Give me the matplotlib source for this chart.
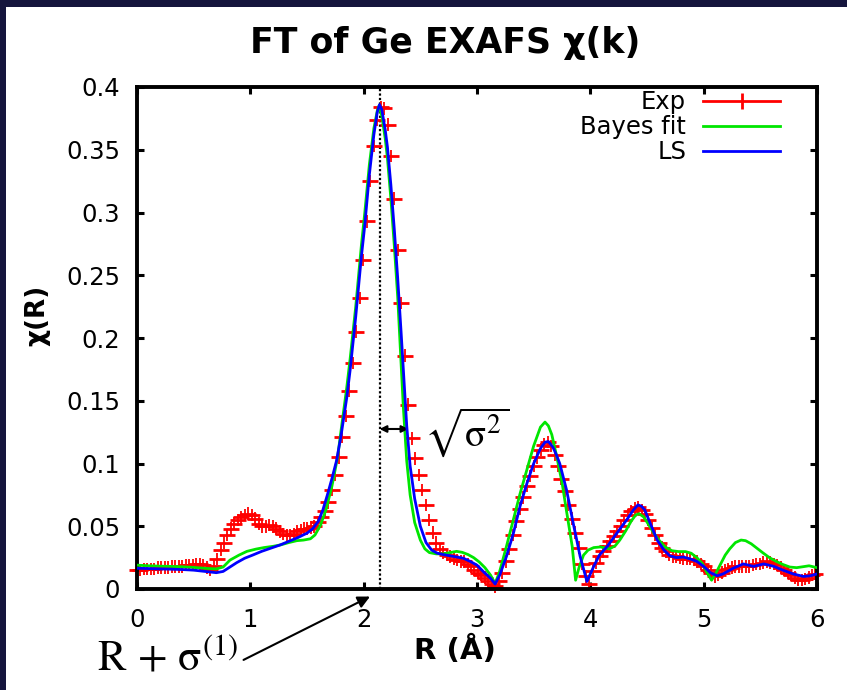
import numpy as np
import matplotlib
matplotlib.use("Agg")
from matplotlib import pyplot as plt
from matplotlib.lines import Line2D
from matplotlib.patches import Rectangle

# Experimental |chi(R)| on the FT grid (dR = 0.0307 A), 196 points from 0 to ~6 A
dr = 0.0307
exp_chi = [
    0.015, 0.015, 0.016, 0.016, 0.016, 0.016, 0.017, 0.017, 0.017, 0.017,
    0.018, 0.018, 0.018, 0.018, 0.019, 0.019, 0.019, 0.020, 0.020, 0.019,
    0.017, 0.015, 0.018, 0.024, 0.031, 0.037, 0.043, 0.048, 0.052, 0.055,
    0.057, 0.059, 0.060, 0.059, 0.056, 0.052, 0.050, 0.050, 0.051, 0.050,
    0.048, 0.046, 0.044, 0.043, 0.043, 0.044, 0.046, 0.047, 0.048, 0.048,
    0.049, 0.050, 0.053, 0.057, 0.062, 0.069, 0.079, 0.091, 0.105, 0.121,
    0.138, 0.158, 0.180, 0.205, 0.232, 0.262, 0.293, 0.325, 0.353, 0.374,
    0.384, 0.383, 0.370, 0.345, 0.311, 0.270, 0.228, 0.186, 0.147, 0.120,
    0.104, 0.091, 0.079, 0.067, 0.055, 0.045, 0.037, 0.032, 0.029, 0.027,
    0.026, 0.024, 0.023, 0.022, 0.022, 0.020, 0.018, 0.015, 0.013, 0.011,
    0.009, 0.006, 0.004, 0.002, 0.006, 0.013, 0.022, 0.032, 0.043, 0.054,
    0.064, 0.073, 0.082, 0.090, 0.098, 0.105, 0.111, 0.115, 0.117, 0.114,
    0.107, 0.098, 0.088, 0.078, 0.067, 0.056, 0.045, 0.033, 0.020, 0.010,
    0.004, 0.014, 0.021, 0.026, 0.030, 0.034, 0.038, 0.042, 0.046, 0.050,
    0.055, 0.059, 0.062, 0.064, 0.065, 0.063, 0.060, 0.055, 0.049, 0.043,
    0.037, 0.033, 0.030, 0.027, 0.026, 0.026, 0.025, 0.024, 0.024, 0.024,
    0.023, 0.022, 0.020, 0.018, 0.015, 0.013, 0.010, 0.011, 0.013, 0.015,
    0.016, 0.017, 0.018, 0.018, 0.018, 0.018, 0.018, 0.019, 0.020, 0.020,
    0.021, 0.022, 0.021, 0.020, 0.019, 0.017, 0.015, 0.013, 0.011, 0.009,
    0.007, 0.007, 0.008, 0.009, 0.011, 0.012,
]
exp_r = np.arange(len(exp_chi)) * dr
exp_err = 0.005

# Bayesian fit
bayes_r = [
    0.00, 0.10, 0.20, 0.30, 0.40, 0.50, 0.60, 0.70, 0.76, 0.82,
    0.90, 0.97, 1.05, 1.12, 1.20, 1.27, 1.34, 1.41, 1.47, 1.53,
    1.57, 1.62, 1.67, 1.72, 1.77, 1.80, 1.85, 1.88, 1.93, 1.98,
    2.01, 2.05, 2.09, 2.12, 2.135, 2.16, 2.19, 2.21, 2.24, 2.27,
    2.30, 2.33, 2.35, 2.38, 2.41, 2.45, 2.50, 2.54, 2.58, 2.64,
    2.70, 2.76, 2.82, 2.87, 2.92, 2.97, 3.02, 3.07, 3.12, 3.16,
    3.20, 3.26, 3.32, 3.38, 3.44, 3.50, 3.56, 3.60, 3.63, 3.66,
    3.70, 3.75, 3.79, 3.84, 3.87, 3.90, 3.94, 3.98, 4.03, 4.09,
    4.17, 4.22, 4.26, 4.31, 4.36, 4.40, 4.43, 4.47, 4.52, 4.56,
    4.61, 4.66, 4.72, 4.78, 4.84, 4.89, 4.94, 4.99, 5.03, 5.07,
    5.11, 5.15, 5.19, 5.23, 5.28, 5.33, 5.37, 5.42, 5.47, 5.52,
    5.58, 5.64, 5.70, 5.76, 5.82, 5.88, 5.93, 6.00,
]
bayes_chi = [
    0.0190, 0.0185, 0.0182, 0.0180, 0.0177, 0.0172, 0.0165, 0.0160, 0.0175, 0.0230,
    0.0270, 0.0300, 0.0318, 0.0330, 0.0340, 0.0352, 0.0370, 0.0385, 0.0390, 0.0400,
    0.0430, 0.0510, 0.0640, 0.0820, 0.1050, 0.1260, 0.1600, 0.1830, 0.2250, 0.2740,
    0.3000, 0.3380, 0.3670, 0.3810, 0.3850, 0.3770, 0.3590, 0.3430, 0.3110, 0.2740,
    0.2330, 0.1800, 0.1450, 0.1020, 0.0750, 0.0530, 0.0390, 0.0320, 0.0290, 0.0280,
    0.0280, 0.0290, 0.0300, 0.0292, 0.0275, 0.0250, 0.0215, 0.0170, 0.0110, 0.0045,
    0.0140, 0.0340, 0.0550, 0.0760, 0.0950, 0.1140, 0.1290, 0.1330, 0.1300, 0.1230,
    0.1070, 0.0850, 0.0620, 0.0340, 0.0070, 0.0170, 0.0270, 0.0310, 0.0330, 0.0335,
    0.0320, 0.0345, 0.0390, 0.0460, 0.0540, 0.0590, 0.0600, 0.0575, 0.0505, 0.0445,
    0.0385, 0.0335, 0.0305, 0.0298, 0.0298, 0.0285, 0.0250, 0.0200, 0.0130, 0.0070,
    0.0130, 0.0200, 0.0270, 0.0320, 0.0370, 0.0390, 0.0385, 0.0360, 0.0325, 0.0290,
    0.0250, 0.0220, 0.0195, 0.0175, 0.0170, 0.0178, 0.0185, 0.0170,
]

# Least-squares fit
ls_r = [
    0.00, 0.10, 0.20, 0.30, 0.40, 0.50, 0.60, 0.70, 0.76, 0.82,
    0.88, 0.95, 1.02, 1.10, 1.18, 1.26, 1.34, 1.42, 1.50, 1.55,
    1.60, 1.64, 1.68, 1.72, 1.76, 1.80, 1.85, 1.88, 1.93, 1.98,
    2.01, 2.05, 2.09, 2.12, 2.14, 2.16, 2.19, 2.21, 2.24, 2.27,
    2.30, 2.33, 2.36, 2.38, 2.41, 2.45, 2.50, 2.55, 2.60, 2.65,
    2.70, 2.76, 2.82, 2.88, 2.94, 3.00, 3.06, 3.12, 3.16, 3.20,
    3.26, 3.32, 3.38, 3.44, 3.50, 3.56, 3.60, 3.63, 3.67, 3.70,
    3.73, 3.79, 3.85, 3.91, 3.97, 4.03, 4.08, 4.15, 4.23, 4.32,
    4.38, 4.42, 4.45, 4.48, 4.53, 4.59, 4.65, 4.70, 4.76, 4.82,
    4.88, 4.94, 5.00, 5.06, 5.12, 5.17, 5.26, 5.35, 5.44, 5.53,
    5.62, 5.70, 5.79, 5.88, 5.94, 6.00,
]
ls_chi = [
    0.0165, 0.0163, 0.0160, 0.0158, 0.0155, 0.0150, 0.0140, 0.0130, 0.0140, 0.0175,
    0.0210, 0.0245, 0.0270, 0.0300, 0.0325, 0.0350, 0.0380, 0.0410, 0.0445, 0.0480,
    0.0540, 0.0630, 0.0750, 0.0880, 0.1020, 0.1220, 0.1520, 0.1740, 0.2170, 0.2650,
    0.2900, 0.3300, 0.3620, 0.3800, 0.3860, 0.3820, 0.3660, 0.3520, 0.3220, 0.2870,
    0.2480, 0.2050, 0.1600, 0.1300, 0.0980, 0.0720, 0.0500, 0.0370, 0.0310, 0.0285,
    0.0275, 0.0265, 0.0255, 0.0245, 0.0220, 0.0190, 0.0135, 0.0085, 0.0040, 0.0110,
    0.0260, 0.0440, 0.0660, 0.0840, 0.1000, 0.1120, 0.1170, 0.1175, 0.1130, 0.1070,
    0.1000, 0.0790, 0.0520, 0.0260, 0.0060, 0.0180, 0.0270, 0.0340, 0.0440, 0.0550,
    0.0630, 0.0670, 0.0660, 0.0630, 0.0520, 0.0390, 0.0310, 0.0265, 0.0250, 0.0255,
    0.0240, 0.0220, 0.0180, 0.0130, 0.0105, 0.0120, 0.0165, 0.0200, 0.0180, 0.0200,
    0.0180, 0.0150, 0.0120, 0.0100, 0.0105, 0.0120,
]

x_ticks = [0, 1, 2, 3, 4, 5, 6]
y_ticks = [0, 0.05, 0.1, 0.15, 0.2, 0.25, 0.3, 0.35, 0.4]
y_tick_labels = ["0", "0.05", "0.1", "0.15", "0.2", "0.25", "0.3", "0.35", "0.4"]
r_peak = 2.14       # R + sigma(1), first-shell position
r_width = 2.395     # end of the sqrt(sigma^2) arrow

W, H = 847, 690
fig = plt.figure(figsize=(W / 100, H / 100), dpi=100)
fig.patch.set_facecolor("#15153d")
fig.add_artist(Rectangle((6 / W, 0), 1, 1 - 7 / H, transform=fig.transFigure,
                         facecolor="white", edgecolor="none", zorder=-5))

ax = fig.add_axes([137 / W, 101 / H, 680 / W, 502 / H])

eb = ax.errorbar(exp_r, exp_chi, yerr=exp_err, fmt="_", color="red", ms=11, mew=2,
                 elinewidth=1.3, capsize=0, zorder=2)
eb[0].set_clip_on(False)
for c in eb[2]:
    c.set_clip_on(False)

bayes_line, = ax.plot(bayes_r, bayes_chi, color="#00e600", lw=2, zorder=3)
ls_line, = ax.plot(ls_r, ls_chi, color="#0000ff", lw=2, zorder=4)

ax.axvline(r_peak, color="black", ls=(0, (1, 1)), lw=1.6, zorder=1)

ax.set_xlim(0, 6)
ax.set_ylim(0, 0.4)
ax.set_xticks(x_ticks)
ax.set_xticklabels([str(t) for t in x_ticks])
ax.set_yticks(y_ticks)
ax.set_yticklabels(y_tick_labels)
ax.tick_params(direction="in", top=True, right=True, length=5, width=2.2,
               labelsize=17.5)
ax.tick_params(axis="x", pad=14)
ax.tick_params(axis="y", pad=12)
for s in ax.spines.values():
    s.set_linewidth(2.8)

ax.set_xlabel("R (Å)", fontsize=21, fontweight="bold")
ax.xaxis.set_label_coords(0.4676, -0.094)
ax.set_ylabel("χ(R)", fontsize=19, fontweight="bold")
ax.yaxis.set_label_coords(-0.128, 0.546)

fig.text(445 / W, 1 - 53 / H, "FT of Ge EXAFS χ(k)", fontsize=25, fontweight="bold",
         ha="center", va="baseline")

exp_handle = Line2D([], [], color="red", lw=2, marker="|", ms=12, mew=2)
ax.legend([exp_handle, bayes_line, ls_line], ["Exp", "Bayes fit", "LS"],
          loc="upper right", bbox_to_anchor=(0.946, 0.994), frameon=False,
          markerfirst=False, fontsize=17.5, handlelength=3.17, handletextpad=0.7,
          labelspacing=0.05, borderpad=0, borderaxespad=0)

# width of the first shell
ax.annotate("", xy=(r_peak, 0.1275), xytext=(r_width, 0.1275),
            arrowprops=dict(arrowstyle="<|-|>", color="black", lw=1.5,
                            mutation_scale=10, shrinkA=0, shrinkB=0))
fig.text(424 / W, 1 - 447 / H, r"$\sqrt{\mathrm{\sigma}^{2}}$", fontsize=28,
         math_fontfamily="stix", va="baseline")

# first-shell position pointer
ax.annotate("", xy=(2.056, -0.006), xytext=(0.94, -0.0565),
            arrowprops=dict(arrowstyle="-|>", color="black", lw=1.5,
                            mutation_scale=18, shrinkA=0, shrinkB=0),
            annotation_clip=False)
fig.text(97 / W, 1 - 671 / H, r"$\mathrm{R}\,+\,\mathrm{\sigma}^{(1)}$", fontsize=31,
         math_fontfamily="stix", va="baseline")

fig.savefig("out.png", dpi=100, facecolor=fig.get_facecolor())
